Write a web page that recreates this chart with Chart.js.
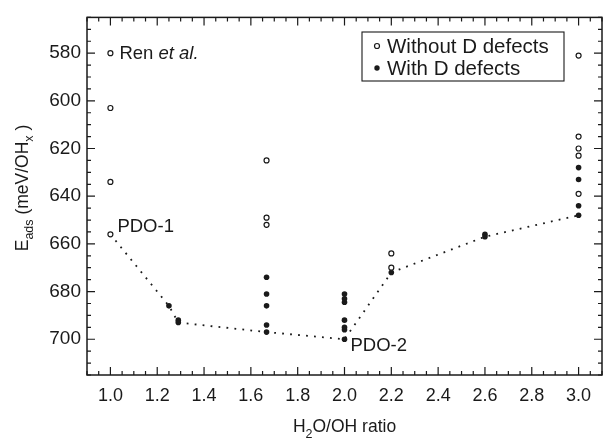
<!DOCTYPE html>
<html>
<head>
<meta charset="utf-8">
<script src="https://cdn.jsdelivr.net/npm/chart.js@4.4.1/dist/chart.umd.min.js"></script>
<style>
html,body{margin:0;padding:0;background:#fff;}
#wrap{width:616px;height:439px;}
</style>
</head>
<body>
<div id="wrap"><canvas id="c" width="616" height="439"></canvas></div>
<script>
// ---- data ----
const openX   = [1.0, 1.0, 1.0, 1.0, 1.667, 1.667, 1.667, 2.2, 2.2, 3.0, 3.0, 3.0, 3.0, 3.0];
const openY   = [580, 603, 634, 656, 625, 649, 652, 664, 670, 581, 615, 620, 623, 639];
const filledX = [1.25, 1.29, 1.29, 1.667, 1.667, 1.667, 1.667, 1.667, 2.0, 2.0, 2.0, 2.0, 2.0, 2.0, 2.0, 2.2, 2.6, 2.6, 3.0, 3.0, 3.0, 3.0];
const filledY = [686, 692, 693, 674, 681, 686, 694, 697, 681, 683, 684.5, 692, 695, 696, 700, 672, 656, 657, 628, 633, 644, 648];
const pathX   = [1.0, 1.25, 1.29, 1.667, 2.0, 2.2, 2.6, 3.0];
const pathY   = [656, 686, 693, 697, 700, 672, 657, 648];
const xTicks  = [1.0, 1.2, 1.4, 1.6, 1.8, 2.0, 2.2, 2.4, 2.6, 2.8, 3.0];
const yTicks  = [580, 600, 620, 640, 660, 680, 700];
const legendLabels = ["Without D defects", "With D defects"];
const xRange = [0.9, 3.1];
const yRange = [565, 715];

const toPts = (xs, ys) => xs.map((x, i) => ({x: x, y: ys[i]}));
const INK = '#1a1a1a';
const FONT = "'Liberation Sans', Arial, Helvetica, sans-serif";

function drawRich(ctx, segs, x, y, align) {
  let total = 0;
  segs.forEach(s => {
    ctx.font = (s.italic ? 'italic ' : '') + s.size + 'px ' + FONT;
    s.w = ctx.measureText(s.t).width;
    total += s.w;
  });
  let cx = align === 'center' ? x - total / 2 : x;
  ctx.textBaseline = 'alphabetic';
  ctx.textAlign = 'left';
  segs.forEach(s => {
    ctx.font = (s.italic ? 'italic ' : '') + s.size + 'px ' + FONT;
    ctx.fillText(s.t, cx, y + (s.dy || 0));
    cx += s.w;
  });
}

const decor = {
  id: 'decor',
  afterDraw(chart) {
    const ctx = chart.ctx;
    const a = chart.chartArea;
    const xs = chart.scales.x, ys = chart.scales.y;
    ctx.save();
    ctx.strokeStyle = INK;
    ctx.fillStyle = INK;
    // inward ticks on all four sides
    ctx.lineWidth = 1.2;
    ctx.beginPath();
    for (let k = 0; k <= 44; k++) {
      const val = xRange[0] + k * 0.05;
      const px = xs.getPixelForValue(val);
      const major = (k % 4) === 2;
      const len = major ? 8 : 4;
      ctx.moveTo(px, a.bottom); ctx.lineTo(px, a.bottom - len);
      ctx.moveTo(px, a.top); ctx.lineTo(px, a.top + len);
    }
    for (let v = yRange[0]; v <= yRange[1]; v += 5) {
      const py = ys.getPixelForValue(v);
      const len = (v % 20 === 0) ? 8 : 4;
      ctx.moveTo(a.left, py); ctx.lineTo(a.left + len, py);
      ctx.moveTo(a.right, py); ctx.lineTo(a.right - len, py);
    }
    ctx.stroke();
    // frame
    ctx.lineWidth = 1.5;
    ctx.strokeRect(a.left, a.top, a.right - a.left, a.bottom - a.top);

    // legend
    const lx = 362, ly = 32, lw = 202, lh = 49;
    ctx.lineWidth = 1.1;
    ctx.strokeRect(lx, ly, lw, lh);
    ctx.beginPath();
    ctx.arc(lx + 15, ly + 14, 2.5, 0, Math.PI * 2);
    ctx.fillStyle = '#fff'; ctx.fill();
    ctx.lineWidth = 1.2; ctx.stroke();
    ctx.beginPath();
    ctx.arc(lx + 15, ly + 36, 2.7, 0, Math.PI * 2);
    ctx.fillStyle = INK; ctx.fill();
    drawRich(ctx, [{t: legendLabels[0], size: 20.5}], lx + 25, ly + 21, 'left');
    drawRich(ctx, [{t: legendLabels[1], size: 20.5}], lx + 25, ly + 43, 'left');

    // annotations anchored to data points
    const renX = xs.getPixelForValue(1.0), renY = ys.getPixelForValue(580);
    drawRich(ctx, [{t: 'Ren ', size: 18.5}, {t: 'et al.', size: 18.5, italic: true}], renX + 9, renY + 6, 'left');
    const p1x = xs.getPixelForValue(1.0), p1y = ys.getPixelForValue(656);
    drawRich(ctx, [{t: 'PDO-1', size: 18.5}], p1x + 7, p1y - 2, 'left');
    const p2x = xs.getPixelForValue(2.0), p2y = ys.getPixelForValue(700);
    drawRich(ctx, [{t: 'PDO-2', size: 18.5}], p2x + 6, p2y + 12, 'left');

    // axis titles
    drawRich(ctx, [{t: 'H', size: 17.5}, {t: '2', size: 12.5, dy: 6}, {t: 'O/OH ratio', size: 17.5}],
      (a.left + a.right) / 2, 432, 'center');
    ctx.save();
    ctx.translate(28, 188);
    ctx.rotate(-Math.PI / 2);
    drawRich(ctx, [{t: 'E', size: 17.5}, {t: 'ads', size: 12.5, dy: 5}, {t: ' (meV/OH', size: 17.5},
      {t: 'x', size: 12.5, dy: 5}, {t: ' )', size: 17.5}], 0, 0, 'center');
    ctx.restore();
    ctx.restore();
  }
};

Chart.defaults.font.family = FONT;
Chart.defaults.color = INK;

new Chart(document.getElementById('c'), {
  type: 'scatter',
  data: {
    datasets: [
      { label: legendLabels[0], data: toPts(openX, openY), pointRadius: 2.5, pointBorderWidth: 1.2,
        pointBackgroundColor: '#fff', pointBorderColor: INK, pointHoverRadius: 2.5 },
      { label: legendLabels[1], data: toPts(filledX, filledY), pointRadius: 2.8, pointBorderWidth: 0,
        pointBackgroundColor: INK, pointBorderColor: INK, pointHoverRadius: 2.8 },
      { label: 'path', data: toPts(pathX, pathY), showLine: true, pointRadius: 0,
        borderColor: INK, borderWidth: 1.8, borderDash: [1.8, 6.2], borderCapStyle: 'butt', fill: false, tension: 0 }
    ]
  },
  options: {
    responsive: false,
    devicePixelRatio: 1,
    animation: false,
    events: [],
    layout: { padding: { left: 0, top: 8, right: 14, bottom: 0 } },
    plugins: { legend: { display: false }, tooltip: { enabled: false } },
    scales: {
      x: {
        type: 'linear', min: xRange[0], max: xRange[1],
        grid: { display: false, drawTicks: false },
        border: { display: false },
        afterBuildTicks: s => { s.ticks = xTicks.map(v => ({ value: v })); },
        afterFit: s => { s.height = 64; },
        ticks: { font: { size: 18 }, color: INK, padding: 10, maxRotation: 0, autoSkip: false,
                 callback: v => Number(v).toFixed(1) }
      },
      y: {
        type: 'linear', reverse: true, min: yRange[0], max: yRange[1],
        grid: { display: false, drawTicks: false },
        border: { display: false },
        afterBuildTicks: s => { s.ticks = yTicks.map(v => ({ value: v })); },
        afterFit: s => { s.width = 87; },
        ticks: { font: { size: 19 }, color: INK, padding: 6, autoSkip: false }
      }
    }
  },
  plugins: [decor]
});
</script>
</body>
</html>
